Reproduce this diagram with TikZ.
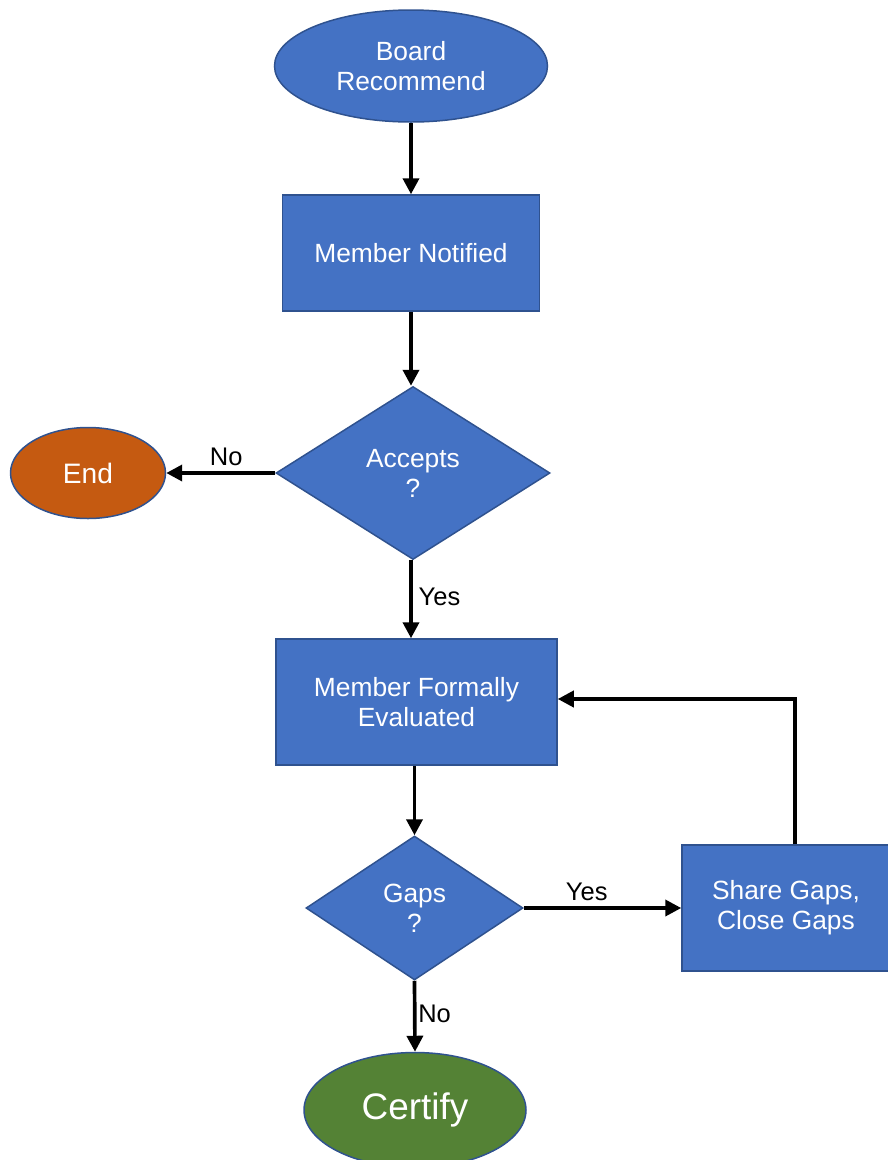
\documentclass[tikz,border=0pt]{standalone}
\usepackage{fontspec}
\setmainfont{Liberation Sans}
\usetikzlibrary{shapes.geometric, arrows.meta}
\definecolor{boxblue}{HTML}{4472C4}
\definecolor{boxedge}{HTML}{2F528F}
\definecolor{endorange}{HTML}{C55A11}
\definecolor{certgreen}{HTML}{548235}

\begin{document}
\begin{tikzpicture}[
        every node/.append style={text=white, font=\fontsize{15}{17}\selectfont, align=center},
        blk/.style={draw=boxedge, line width=0.85pt, fill=boxblue, rectangle},
        oval/.style={draw=boxedge, line width=0.85pt, ellipse, inner sep=0pt},
        test/.style={draw=boxedge, line width=0.85pt, fill=boxblue, diamond, inner sep=0pt},
        lbl/.style={text=black, fill=none, draw=none, font=\fontsize{14.5}{17}\selectfont},
        flow/.style={line width=2.1pt, -{Triangle[length=0.32cm, width=0.32cm]}}
    ]
        \useasboundingbox (0,0) rectangle (17.74,-23.2);
        \node[oval, fill=boxblue, minimum width=5.46cm, minimum height=2.24cm] (BR) at (8.22, -1.32) {Board\\Recommend};
        \node[blk, minimum width=5.14cm, minimum height=2.32cm] (MN) at (8.22, -5.06) {Member Notified};
        \node[test, minimum width=5.48cm, minimum height=3.46cm] (AC) at (8.26, -9.46) {Accepts\\?};
        \node[oval, fill=endorange, minimum width=3.1cm, minimum height=1.82cm, font=\fontsize{16}{18}\selectfont] (EN) at (1.76, -9.46) {End};
        \node[blk, minimum width=5.62cm, minimum height=2.52cm] (FE) at (8.33, -14.04) {Member Formally\\Evaluated};
        \node[test, minimum width=4.34cm, minimum height=2.88cm] (GP) at (8.29, -18.16) {Gaps\\?};
        \node[blk, minimum width=4.16cm, minimum height=2.52cm] (SG) at (15.72, -18.16) {Share Gaps,\\Close Gaps};
        \node[oval, fill=certgreen, minimum width=4.44cm, minimum height=2.3cm, font=\fontsize{21}{24}\selectfont] (CE) at (8.3, -22.2) {Certify};
        \draw[flow] (BR) -- (MN);
        \draw[flow] (MN.south) -- (MN.south |- AC.north);
        \draw[flow] (AC.west) -- node[lbl, above, pos=0.45] (LN1) {No} (EN.east);
        \draw[flow] (AC.south -| MN.south) -- node[lbl, right, pos=0.47] (LY1) {Yes} (MN.south |- FE.north);
        \draw[flow] (FE.south -| GP.north) -- (GP.north);
        \draw[flow] (GP.east) -- node[lbl, above, pos=0.4] (LY2) {Yes} (SG.west);
        \draw[flow] (GP.south) -- node[lbl, right, inner sep=1pt, pos=0.47] (LN2) {No} (CE.north);
        \draw[flow] ([xshift=0.18cm]SG.north) |- ([yshift=0.06cm]FE.east);
    \end{tikzpicture}
\end{document}
